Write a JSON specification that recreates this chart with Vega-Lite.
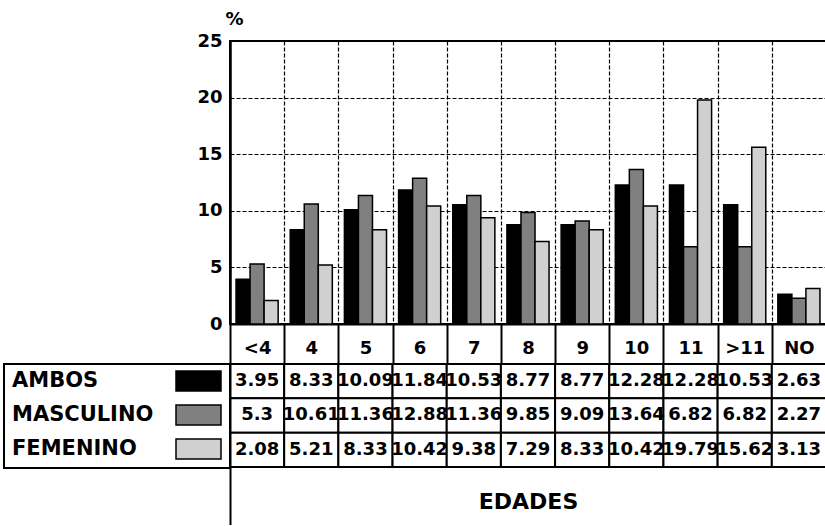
{
  "$schema": "https://vega.github.io/schema/vega-lite/v6.json",
  "padding": {"left": 3, "top": 9, "right": 0, "bottom": 0},
  "background": "white",
  "config": {
    "font": "DejaVu Sans",
    "axis": {"labelFont": "DejaVu Sans", "labelFontWeight": "bold", "labelColor": "black", "titleFont": "DejaVu Sans", "titleColor": "black", "titleFontWeight": "bold"},
    "legend": {"strokeWidth": 2}
  },
  "data": {
    "values": [
      {"cat": "<4", "serie": "AMBOS", "value": 3.95},
      {"cat": "<4", "serie": "MASCULINO", "value": 5.3},
      {"cat": "<4", "serie": "FEMENINO", "value": 2.08},
      {"cat": "4", "serie": "AMBOS", "value": 8.33},
      {"cat": "4", "serie": "MASCULINO", "value": 10.61},
      {"cat": "4", "serie": "FEMENINO", "value": 5.21},
      {"cat": "5", "serie": "AMBOS", "value": 10.09},
      {"cat": "5", "serie": "MASCULINO", "value": 11.36},
      {"cat": "5", "serie": "FEMENINO", "value": 8.33},
      {"cat": "6", "serie": "AMBOS", "value": 11.84},
      {"cat": "6", "serie": "MASCULINO", "value": 12.88},
      {"cat": "6", "serie": "FEMENINO", "value": 10.42},
      {"cat": "7", "serie": "AMBOS", "value": 10.53},
      {"cat": "7", "serie": "MASCULINO", "value": 11.36},
      {"cat": "7", "serie": "FEMENINO", "value": 9.38},
      {"cat": "8", "serie": "AMBOS", "value": 8.77},
      {"cat": "8", "serie": "MASCULINO", "value": 9.85},
      {"cat": "8", "serie": "FEMENINO", "value": 7.29},
      {"cat": "9", "serie": "AMBOS", "value": 8.77},
      {"cat": "9", "serie": "MASCULINO", "value": 9.09},
      {"cat": "9", "serie": "FEMENINO", "value": 8.33},
      {"cat": "10", "serie": "AMBOS", "value": 12.28},
      {"cat": "10", "serie": "MASCULINO", "value": 13.64},
      {"cat": "10", "serie": "FEMENINO", "value": 10.42},
      {"cat": "11", "serie": "AMBOS", "value": 12.28},
      {"cat": "11", "serie": "MASCULINO", "value": 6.82},
      {"cat": "11", "serie": "FEMENINO", "value": 19.79},
      {"cat": ">11", "serie": "AMBOS", "value": 10.53},
      {"cat": ">11", "serie": "MASCULINO", "value": 6.82},
      {"cat": ">11", "serie": "FEMENINO", "value": 15.62},
      {"cat": "NO", "serie": "AMBOS", "value": 2.63},
      {"cat": "NO", "serie": "MASCULINO", "value": 2.27},
      {"cat": "NO", "serie": "FEMENINO", "value": 3.13}
    ]
  },
  "bounds": "flush",
  "spacing": 40,
  "resolve": {"scale": {"fill": "independent", "x": "independent", "y": "independent"}, "legend": {"fill": "independent"}},
  "vconcat": [
    {
      "width": 596,
      "height": 283,
      "view": {"stroke": "black", "strokeWidth": 2},
      "mark": {"type": "bar", "stroke": "black", "strokeWidth": 1.5},
      "encoding": {
        "x": {
          "field": "cat", "type": "nominal",
          "scale": {"domain": ["<4", "4", "5", "6", "7", "8", "9", "10", "11", ">11", "NO"], "paddingInner": 0, "paddingOuter": 0},
          "axis": {
            "title": null, "labelAngle": 0, "tickBand": "extent", "tickSize": 40, "tickWidth": 2, "tickColor": "black",
            "labelPadding": -16, "labelBaseline": "middle", "labelFontSize": 18,
            "domainColor": "black", "domainWidth": 2,
            "grid": true, "gridColor": "black", "gridDash": [4, 2], "gridWidth": 1.2, "gridOpacity": 1
          }
        },
        "xOffset": {
          "field": "serie", "type": "nominal",
          "scale": {"domain": ["AMBOS", "MASCULINO", "FEMENINO"], "paddingInner": 0, "paddingOuter": 0.43}
        },
        "y": {
          "field": "value", "type": "quantitative",
          "scale": {"domain": [0, 25]},
          "axis": {
            "values": [0, 5, 10, 15, 20, 25], "ticks": false, "labelPadding": 8, "labelFontSize": 18,
            "domainColor": "black", "domainWidth": 2.5,
            "grid": true, "gridColor": "black", "gridDash": [4, 2], "gridWidth": 1.2, "gridOpacity": 1,
            "title": "%", "titleAngle": 0, "titleX": 4, "titleY": -22, "titleAlign": "center", "titleBaseline": "middle", "titleFontSize": 18
          }
        },
        "fill": {
          "field": "serie", "type": "nominal",
          "scale": {"domain": ["AMBOS", "MASCULINO", "FEMENINO"], "range": ["#000000", "#808080", "#d0d0d0"]},
          "legend": null
        }
      }
    },
    {
      "width": 596,
      "height": 161,
      "view": {"stroke": null},
      "encoding": {
        "x": {
          "field": "cat", "type": "nominal",
          "scale": {"domain": ["<4", "4", "5", "6", "7", "8", "9", "10", "11", ">11", "NO"], "paddingInner": 0, "paddingOuter": 0},
          "axis": {
            "labels": false, "ticks": false, "domain": false, "grid": false,
            "title": "EDADES", "titleY": -24, "titleBaseline": "middle", "titleFontSize": 22
          }
        },
        "y": {
          "field": "serie", "type": "nominal",
          "scale": {"domain": ["AMBOS", "MASCULINO", "FEMENINO"], "paddingInner": 0, "paddingOuter": 0.845, "align": 0},
          "axis": {"labels": false, "ticks": false, "title": null, "domain": true, "domainColor": "black", "domainWidth": 2, "grid": false}
        }
      },
      "layer": [
        {"mark": {"type": "rect", "fill": "white", "stroke": "black", "strokeWidth": 2}},
        {
          "mark": {"type": "text", "font": "DejaVu Sans", "fontWeight": "bold", "fontSize": 18, "color": "black"},
          "encoding": {"text": {"field": "value", "type": "nominal"}}
        },
        {
          "mark": {"type": "point", "filled": true, "opacity": 0},
          "encoding": {
            "fill": {
              "field": "serie", "type": "nominal",
              "scale": {"domain": ["AMBOS", "MASCULINO", "FEMENINO"], "range": ["#000000", "#808080", "#d0d0d0"]},
              "legend": {
                "orient": "left", "offset": 0, "title": null, "direction": "vertical",
                "symbolType": "M-2.25,-1H2.25V1H-2.25Z", "symbolSize": 400,
                "symbolStrokeColor": "black", "symbolStrokeWidth": 1.5,
                "symbolOffset": 177.5, "labelOffset": -197.5,
                "labelFont": "DejaVu Sans", "labelFontSize": 21, "labelFontWeight": "bold", "labelColor": "black", "labelLimit": 300,
                "rowPadding": 8, "padding": 6, "strokeColor": "black",
                "encode": {"symbols": {"update": {"opacity": {"value": 1}}}}
              }
            }
          }
        }
      ]
    }
  ]
}
